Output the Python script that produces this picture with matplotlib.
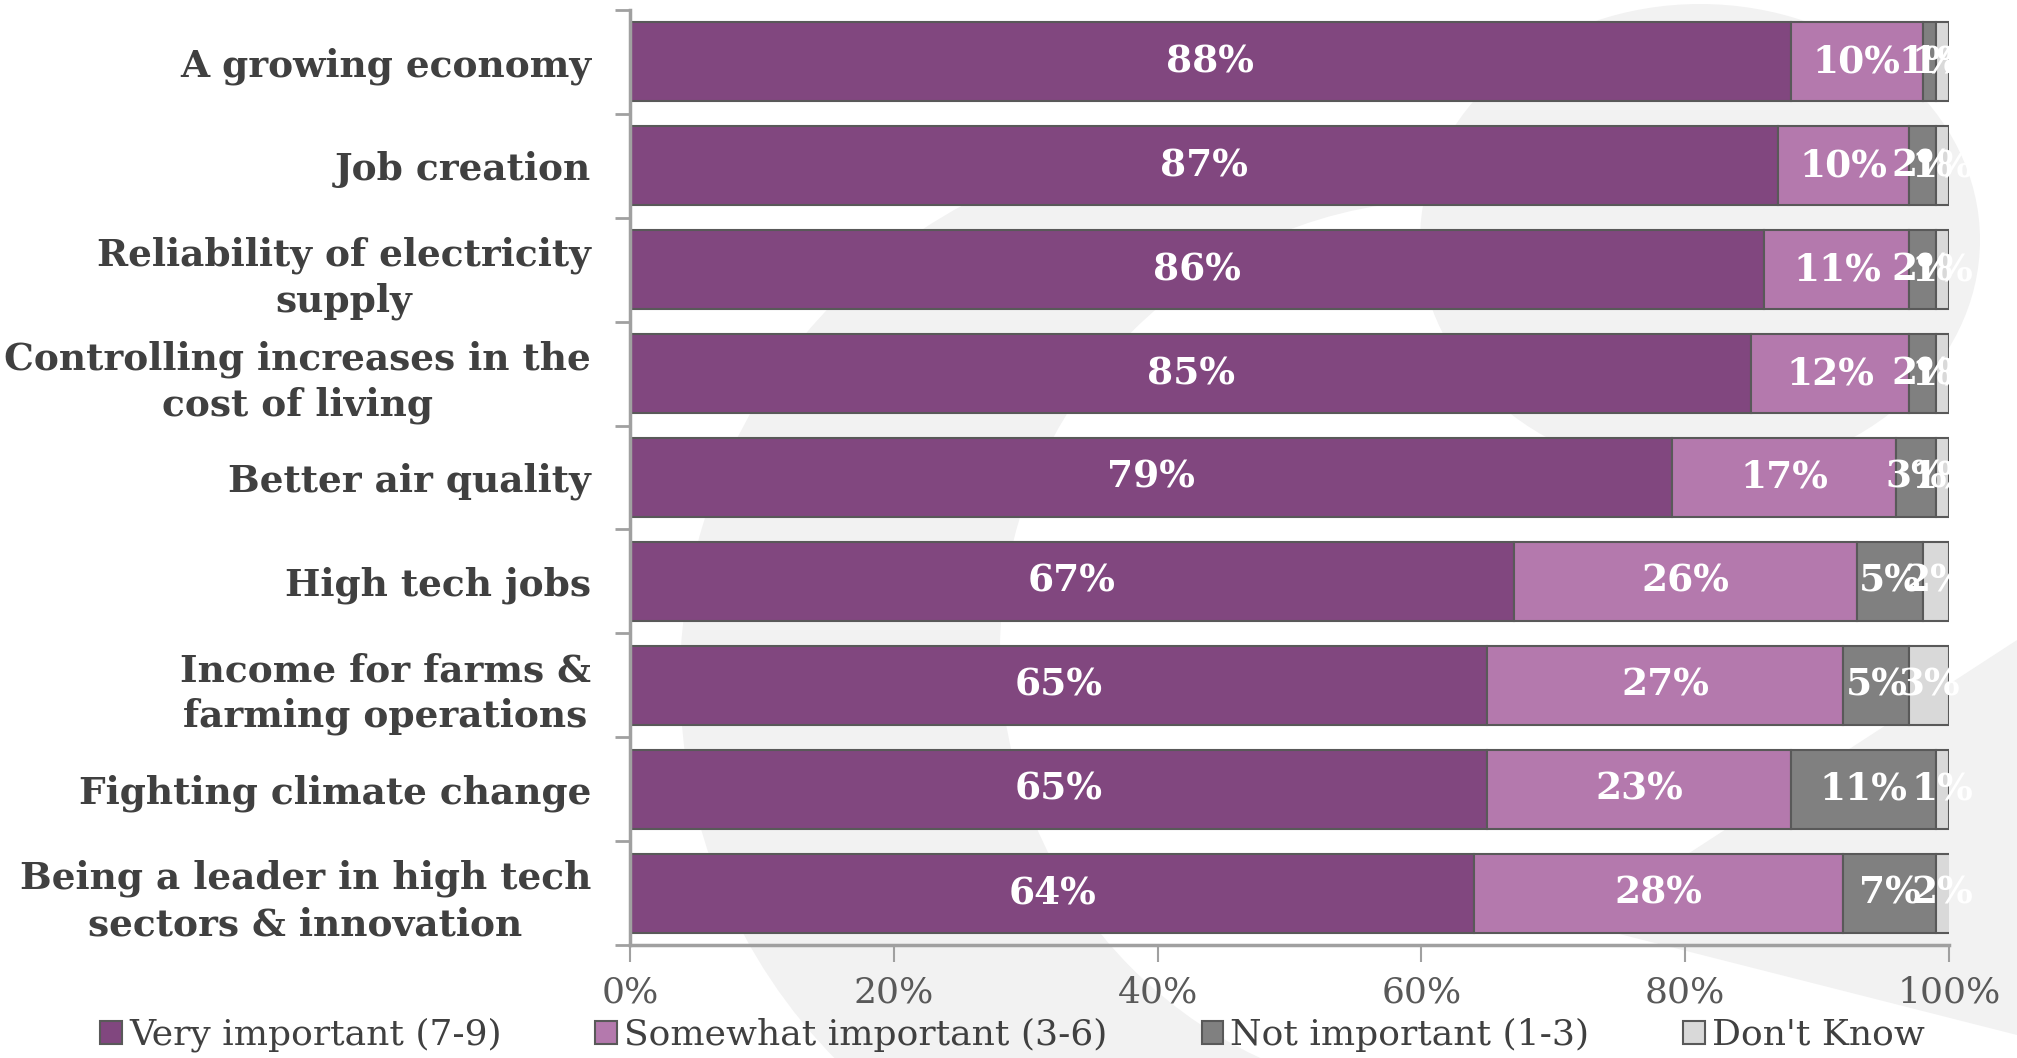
import matplotlib

matplotlib.use("Agg")

import matplotlib.pyplot as plt
from matplotlib.patches import Ellipse, Polygon, Patch

categorias = [
    "A growing economy",
    "Job creation",
    "Reliability of electricity\nsupply",
    "Controlling increases in the\ncost of living",
    "Better air quality",
    "High tech jobs",
    "Income for farms &\nfarming operations",
    "Fighting climate change",
    "Being a leader in high tech\nsectors & innovation",
]
very_important = [88, 87, 86, 85, 79, 67, 65, 65, 64]
somewhat_important = [10, 10, 11, 12, 17, 26, 27, 23, 28]
not_important = [1, 2, 2, 2, 3, 5, 5, 11, 7]
dont_know = [1, 1, 1, 1, 1, 2, 3, 1, 2]

series = [
    ("Very important (7-9)", very_important, "#81477F"),
    ("Somewhat important (3-6)", somewhat_important, "#B479AD"),
    ("Not important (1-3)", not_important, "#808080"),
    ("Don't Know", dont_know, "#D9D9D9"),
]

W, H = 2017, 1058
SERIF = "DejaVu Serif"

fig = plt.figure(figsize=(W / 100, H / 100), dpi=100)
fig.patch.set_facecolor("white")


# marca d'agua cinza clara ao fundo (coordenadas em pixels da imagem, y para baixo)
def px(x, y):
    return (x / W, 1 - y / H)


def elipse(cx, cy, rx, ry, cor):
    return Ellipse(px(cx, cy), 2 * rx / W, 2 * ry / H, transform=fig.transFigure,
                   color=cor, zorder=0, lw=0)


fig.add_artist(elipse(1220, 680, 540, 540, "#F2F2F2"))
fig.add_artist(elipse(1450, 650, 450, 450, "white"))
fig.add_artist(elipse(1700, 240, 280, 236, "#F2F2F2"))
fig.add_artist(Polygon([px(1580, 924), px(2017, 640), px(2017, 1035)],
                       transform=fig.transFigure, color="#F2F2F2", zorder=0, lw=0))

ax = fig.add_axes([630 / W, 1 - 945 / H, (1949 - 630) / W, (945 - 10) / H])
ax.patch.set_alpha(0)

y = list(range(len(categorias)))
left = [0] * len(categorias)
for nome, valores, cor in series:
    barras = ax.barh(y, valores, left=left, height=0.76, color=cor,
                     edgecolor="#595959", linewidth=1.5, label=nome, zorder=2)
    ax.bar_label(barras, labels=[f"{v}%" for v in valores], label_type="center",
                 color="white", fontsize=27, fontweight="bold", family=SERIF,
                 zorder=3, clip_on=False)
    left = [a + b for a, b in zip(left, valores)]

ax.set_xlim(0, 100)
ax.set_ylim(len(categorias) - 0.5, -0.5)

ax.set_yticks(y)
ax.set_yticklabels(categorias, fontsize=27, fontweight="bold", family=SERIF,
                   color="#404040", linespacing=1.3)
for t in ax.get_yticklabels():
    t.set_multialignment("center")
ax.set_yticks([i - 0.5 for i in range(len(categorias) + 1)], minor=True)
ax.tick_params(axis="y", which="major", length=0, pad=28)
ax.tick_params(axis="y", which="minor", length=11, width=2, color="#A0A0A0")

ax.set_xticks([0, 20, 40, 60, 80, 100])
ax.set_xticklabels(["0%", "20%", "40%", "60%", "80%", "100%"], fontsize=26,
                   family=SERIF, color="#595959")
ax.tick_params(axis="x", length=12, width=1.5, color="#A0A0A0", pad=10)

for lado in ["top", "right"]:
    ax.spines[lado].set_visible(False)
for lado in ["left", "bottom"]:
    ax.spines[lado].set_color("#A0A0A0")
    ax.spines[lado].set_linewidth(2.5)

handles = [Patch(facecolor=c, edgecolor="#595959", linewidth=1.5) for _, _, c in series]
fig.legend(handles, [n for n, _, _ in series], loc="center left",
           bbox_to_anchor=(100 / W, 1 - 1035 / H), ncol=4, frameon=False,
           prop={"family": SERIF, "size": 26}, labelcolor="#404040",
           handlelength=0.6, handleheight=0.6, handletextpad=0.2,
           columnspacing=2.6, borderaxespad=0, borderpad=0)

fig.savefig("out.png", dpi=100)
